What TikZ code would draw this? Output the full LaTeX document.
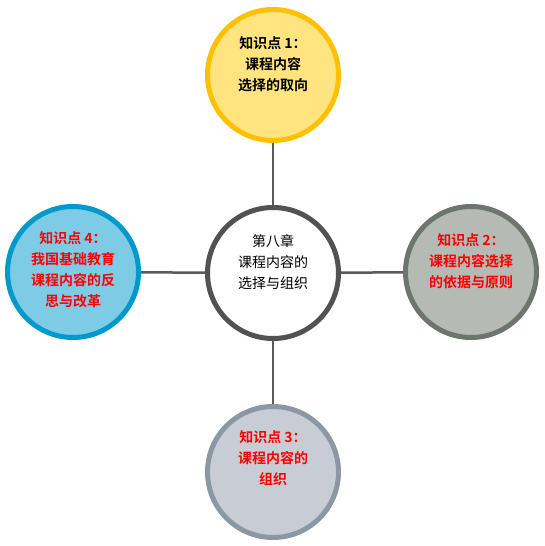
\documentclass[tikz,border=0pt]{standalone}
\usepackage{fontspec}
\usepackage{xcolor}
\usepackage{tikz}
\usetikzlibrary{positioning,calc}
\newfontfamily\cjk{Noto Sans CJK SC}[BoldFont={Noto Sans CJK SC Bold}]

\definecolor{ringgray}{RGB}{82,82,82}
\definecolor{linkgray}{RGB}{90,90,90}
\definecolor{goldline}{RGB}{255,192,0}
\definecolor{goldfill}{RGB}{255,228,128}
\definecolor{blueline}{RGB}{0,153,204}
\definecolor{bluefill}{RGB}{126,203,230}
\definecolor{sageline}{RGB}{108,118,108}
\definecolor{sagefill}{RGB}{181,186,181}
\definecolor{slateline}{RGB}{139,151,163}
\definecolor{slatefill}{RGB}{200,205,213}

\begin{document}
\begin{tikzpicture}[x=1pt, y=-1pt, font=\cjk\fontsize{14}{21}\selectfont,
    topic/.style={draw, circle, line width=5pt, minimum size=131pt, inner sep=0pt},
    lbl/.style={align=center, font=\cjk\bfseries\fontsize{14}{21}\selectfont},
    link/.style={line width=2.5pt, linkgray}]

  \useasboundingbox (0,0) rectangle (544,546);

  % Centre
  \node[topic, draw=ringgray, fill=white] (k0) at (273, 273) {};

  % Knowledge points
  \node[topic, draw=goldline, fill=goldfill] (k1) at (273, 75) {};
  \node[topic, draw=sageline, fill=sagefill] (k2) at (471, 272) {};
  \node[topic, draw=slateline, fill=slatefill] (k3) at (273, 472) {};
  \node[topic, draw=blueline, fill=bluefill] (k4) at (73, 272) {};

  % Links
  \draw[link] (k0) -- (k1);
  \draw[link] (k0) -- (k2);
  \draw[link] (k0) -- (k3);
  \draw[link] (k0) -- (k4);

  % Texts
  \node[align=center] (t0) at ($(k0)+(0,-11)$) {第八章\\课程内容的\\选择与组织};
  \node[lbl] (t1) at ($(k1)+(0,-11)$) {知识点 1：\\课程内容\\选择的取向};
  \node[lbl, red] (t2) at ($(k2)+(0,-11)$) {知识点 2：\\课程内容选择\\的依据与原则};
  \node[lbl, red] (t3) at ($(k3)+(0,-14)$) {知识点 3：\\课程内容的\\组织};
  \node[lbl, red] (t4) at ($(k4)+(0,-2)$) {知识点 4：\\我国基础教育\\课程内容的反\\思与改革};

\end{tikzpicture}
\end{document}
